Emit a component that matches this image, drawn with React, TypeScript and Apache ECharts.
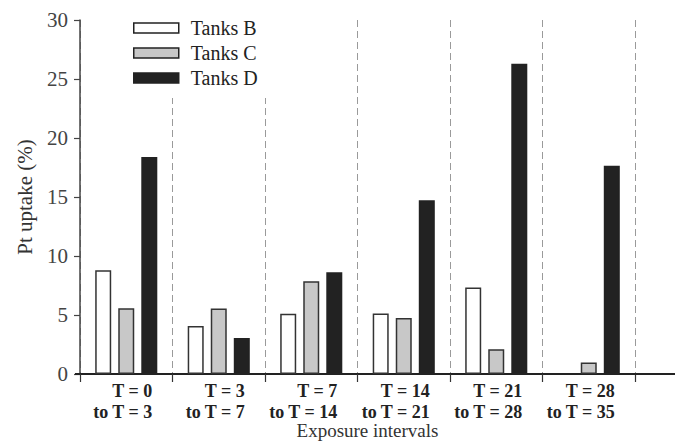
import React, { useEffect, useRef } from "react";
import * as echarts from "echarts";

const categories = [
  "T = 0\nto T = 3",
  "T = 3\nto T = 7",
  "T = 7\nto T = 14",
  "T = 14\nto T = 21",
  "T = 21\nto T = 28",
  "T = 28\nto T = 35",
];
const tanksB: (number | null)[] = [8.8, 4.07, 5.1, 5.12, 7.33, null];
const tanksC: (number | null)[] = [5.57, 5.55, 7.86, 4.75, 2.1, 0.97];
const tanksD: (number | null)[] = [18.4, 3.05, 8.63, 14.73, 26.3, 17.64];
const seriesNames = ["Tanks B", "Tanks C", "Tanks D"];
const yTicks = { min: 0, max: 30, interval: 5 };

const FONT = '"Liberation Serif", "Times New Roman", serif';

export default function App() {
  const ref = useRef<HTMLDivElement>(null);
  useEffect(() => {
    if (!ref.current) return;
    const chart = echarts.init(ref.current, undefined, { renderer: "svg" });
    const barBase = {
      type: "bar" as const,
      barWidth: 16,
      barGap: "44%",
    };
    chart.setOption({
      animation: false,
      backgroundColor: "#fff",
      textStyle: { fontFamily: FONT },
      grid: { left: 80, right: 48, top: 20, bottom: 69, outerBoundsMode: "none", containLabel: false },
      legend: {
        orient: "vertical",
        left: 123,
        top: 8,
        padding: [10, 16, 10, 10],
        backgroundColor: "#fff",
        itemWidth: 45,
        itemHeight: 10,
        itemGap: 5,
        icon: "rect",
        selectedMode: false,
        textStyle: {
          fontFamily: FONT,
          fontSize: 20,
          lineHeight: 20,
          color: "#222",
          padding: [0, 0, 0, 7],
        },
        data: seriesNames.map((n) => ({ name: n, itemStyle: { borderColor: "#222", borderWidth: 1.5 } })),
      },
      xAxis: {
        type: "category",
        data: categories,
        name: "Exposure intervals",
        nameLocation: "middle",
        nameGap: 47,
        nameMoveOverlap: false,
        nameTextStyle: { fontFamily: FONT, fontSize: 19, lineHeight: 19, color: "#333", padding: [0, 0, 0, 20] },
        axisLine: { lineStyle: { color: "#222", width: 2 } },
        axisTick: { show: true, length: 8, lineStyle: { color: "#333", width: 1.2 } },
        splitLine: { show: true, lineStyle: { color: "#9a9a9a", type: [7, 4], width: 1 } },
        axisLabel: {
          margin: 6,
          formatter: (v: string) =>
            v
              .split("\n")
              .map((l) => `{a|${l}}`)
              .join("\n"),
          rich: {
            a: {
              width: 52,
              align: "right",
              fontFamily: FONT,
              fontWeight: "bold",
              fontSize: 18,
              lineHeight: 21,
              color: "#222",
            },
          },
        },
      },
      yAxis: {
        type: "value",
        min: yTicks.min,
        max: yTicks.max,
        interval: yTicks.interval,
        name: "Pt uptake (%)",
        nameLocation: "middle",
        nameGap: 45,
        nameMoveOverlap: false,
        nameTextStyle: { fontFamily: FONT, fontSize: 21, color: "#333" },
        axisLine: { show: true, lineStyle: { color: "#444", width: 1.5 } },
        axisTick: { show: true, length: 6, lineStyle: { color: "#444", width: 1.2 } },
        splitLine: { show: false },
        axisLabel: { margin: 12, fontFamily: FONT, fontSize: 21, color: "#444" },
      },
      graphic: [
        { type: "line", shape: { x1: 635, y1: 374, x2: 675, y2: 374 }, style: { stroke: "#222", lineWidth: 2 }, z: 10 },
        { type: "line", shape: { x1: 75, y1: 374, x2: 80, y2: 374 }, style: { stroke: "#222", lineWidth: 2 }, z: 10 },
      ],
      series: [
        { ...barBase, name: seriesNames[0], data: tanksB, itemStyle: { color: "#ffffff", borderColor: "#333", borderWidth: 1.5 } },
        { ...barBase, name: seriesNames[1], data: tanksC, itemStyle: { color: "#c8c8c8", borderColor: "#333", borderWidth: 1.5 } },
        { ...barBase, name: seriesNames[2], data: tanksD, itemStyle: { color: "#222222", borderColor: "#222", borderWidth: 1.5 } },
      ],
    });
    return () => chart.dispose();
  }, []);
  return <div ref={ref} style={{ width: 683, height: 443, position: "absolute", left: 0, top: 0 }} />;
}
